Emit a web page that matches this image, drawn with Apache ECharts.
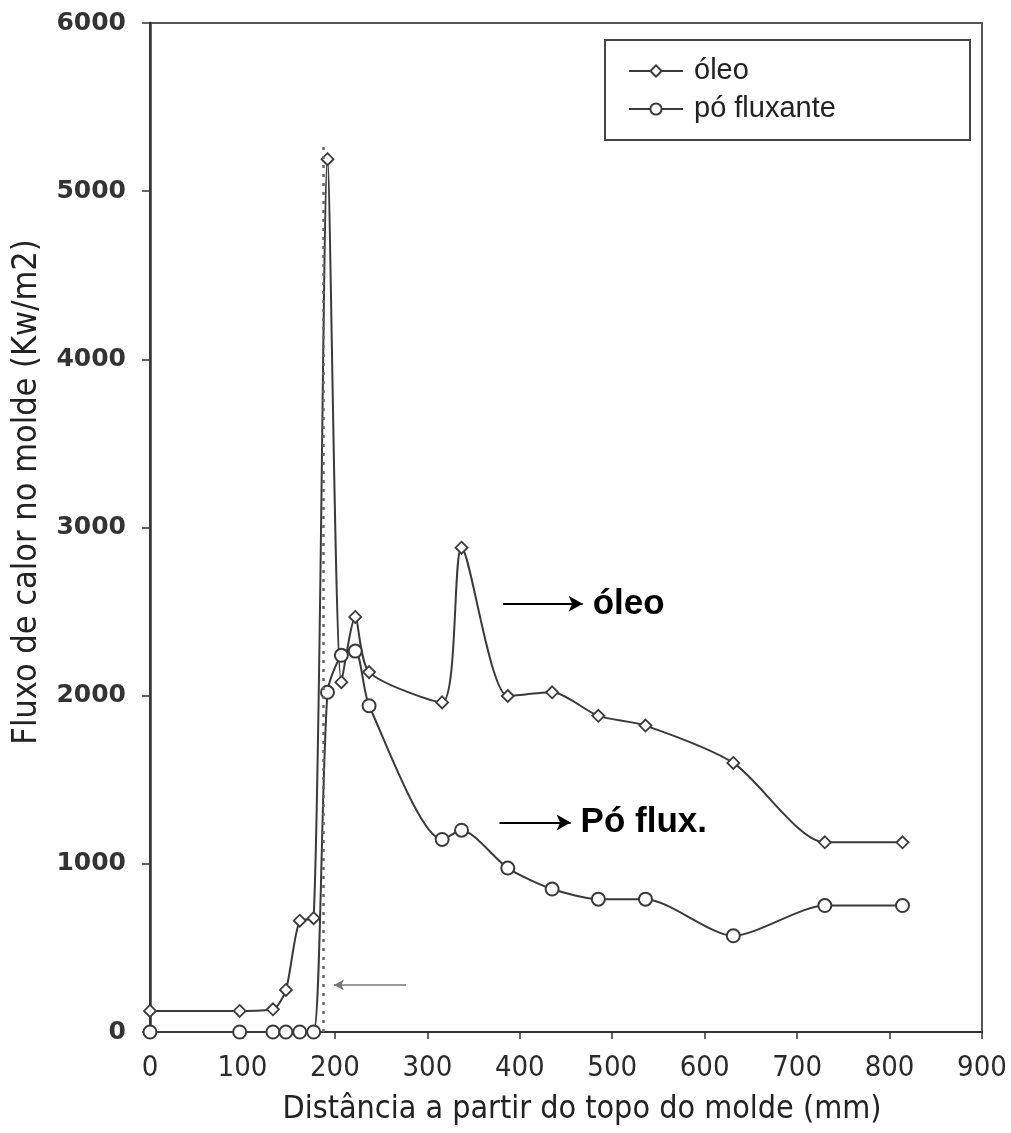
<!DOCTYPE html>
<html>
<head>
<meta charset="utf-8">
<script src="https://cdn.jsdelivr.net/npm/echarts@6/dist/echarts.min.js"></script>
<style>
  html, body { margin: 0; padding: 0; background: #fff; }
  #chart { width: 1011px; height: 1133px; }
</style>
</head>
<body>
<div id="chart"></div>
<script>
// Distância a partir do topo do molde (mm), shared by both series
const distancia = [0, 97, 133, 147, 162, 177, 192, 207, 222, 237, 316, 337, 387, 435, 485, 536, 631, 730, 814];
// Fluxo de calor no molde (Kw/m2)
const oleo = [125, 125, 135, 250, 662, 677, 5190, 2080, 2468, 2140, 1960, 2880, 1998, 2020, 1880, 1822, 1600, 1128, 1128];
const poFluxante = [0, 0, 0, 0, 0, 0, 2020, 2240, 2265, 1940, 1145, 1200, 975, 850, 790, 790, 572, 752, 752];
const xTicks = [0, 100, 200, 300, 400, 500, 600, 700, 800, 900];
const yTicks = [0, 1000, 2000, 3000, 4000, 5000, 6000];
const seriesNames = ['óleo', 'pó fluxante'];
const xTitle = 'Distância a partir do topo do molde (mm)';
const yTitle = 'Fluxo de calor no molde (Kw/m2)';

const pairs = ys => distancia.map((d, i) => [d, ys[i]]);

const narrow = '"Liberation Sans Narrow", "Arial Narrow", "DejaVu Sans Condensed", "Liberation Sans", sans-serif';
const sans = '"Liberation Sans", Arial, sans-serif';
const ink = '#3a3a3a';

const chart = echarts.init(document.getElementById('chart'), null, { renderer: 'canvas' });

chart.setOption({
  animation: false,
  backgroundColor: '#ffffff',
  grid: {
    left: 150, right: 29, top: 23, bottom: 101,
    containLabel: false, outerBoundsMode: 'none',
    show: true, borderColor: '#555', borderWidth: 2, backgroundColor: 'transparent'
  },
  legend: {
    data: seriesNames,
    orient: 'vertical',
    left: 623, top: 51,
    itemWidth: 54, itemHeight: 14, itemGap: 8,
    textStyle: { fontFamily: sans, fontSize: 29, color: '#222', lineHeight: 30, padding: [0, 0, 0, 6] }
  },
  graphic: [
    {
      type: 'rect',
      shape: { x: 605, y: 40, width: 365, height: 100 },
      style: { fill: 'none', stroke: '#444', lineWidth: 2 },
      z: 10
    },
    {
      type: 'text',
      x: 27, y: 492, rotation: Math.PI / 2,
      style: { text: yTitle, font: '34px ' + narrow, fill: '#222', align: 'center', verticalAlign: 'middle' }
    },
    {
      type: 'text',
      x: 582, y: 1110,
      style: { text: xTitle, font: '32px ' + narrow, fill: '#222', align: 'center', verticalAlign: 'middle' }
    }
  ],
  xAxis: {
    type: 'value', min: 0, max: 900, interval: 100,
    axisLine: { onZero: false, lineStyle: { color: '#333', width: 2 } },
    axisTick: { length: 7, lineStyle: { color: '#333', width: 1.5 } },
    axisLabel: {
      fontFamily: narrow, fontSize: 29, color: '#2a2a2a', margin: 22,
      formatter: v => xTicks.includes(v) ? String(v) : ''
    },
    splitLine: { show: false }
  },
  yAxis: {
    type: 'value', min: 0, max: 6000, interval: 1000,
    axisLine: { show: true, lineStyle: { color: '#333', width: 2.5 } },
    axisTick: { show: true, length: 8, lineStyle: { color: '#333', width: 1.5 } },
    axisLabel: {
      fontFamily: '"DejaVu Sans", sans-serif', fontWeight: 'bold', fontSize: 25, color: '#333', margin: 24,
      formatter: v => yTicks.includes(v) ? String(v) : ''
    },
    splitLine: { show: false }
  },
  series: [
    {
      name: seriesNames[0],
      type: 'line',
      data: pairs(oleo),
      smooth: 0.25,
      symbol: 'diamond', symbolSize: 12,
      lineStyle: { color: ink, width: 2 },
      itemStyle: { color: '#fff', borderColor: ink, borderWidth: 1.8 },
      z: 3,
      markLine: {
        silent: true,
        symbol: ['none', 'none'],
        label: { show: false },
        data: [
          // dotted guide through the peak
          [{ coord: [187, 0], lineStyle: { type: [3, 6], color: '#666', width: 2.5 } },
           { coord: [187, 5280] }],
          // pointer to the guide, near the base
          [{ coord: [277, 280], symbol: 'none', lineStyle: { type: 'solid', color: '#777', width: 1.5 } },
           { coord: [199, 280], symbol: 'arrow', symbolSize: [8, 10] }],
          // callouts naming each curve
          [{ coord: [382, 2546], symbol: 'none', lineStyle: { type: 'solid', color: '#000', width: 2 },
             label: { show: true, position: 'end', formatter: 'óleo', distance: 10,
                      fontFamily: sans, fontWeight: 'bold', fontSize: 35, color: '#000' } },
           { coord: [468, 2546], symbol: 'arrow', symbolSize: [12, 14] }],
          [{ coord: [378, 1246], symbol: 'none', lineStyle: { type: 'solid', color: '#000', width: 2 },
             label: { show: true, position: 'end', formatter: 'Pó flux.', distance: 10,
                      fontFamily: sans, fontWeight: 'bold', fontSize: 35, color: '#000' } },
           { coord: [455, 1246], symbol: 'arrow', symbolSize: [12, 14] }]
        ]
      }
    },
    {
      name: seriesNames[1],
      type: 'line',
      data: pairs(poFluxante),
      smooth: 0.25,
      symbol: 'circle', symbolSize: 13,
      lineStyle: { color: ink, width: 2 },
      itemStyle: { color: '#fff', borderColor: ink, borderWidth: 2 },
      z: 4
    }
  ]
});
</script>
</body>
</html>
